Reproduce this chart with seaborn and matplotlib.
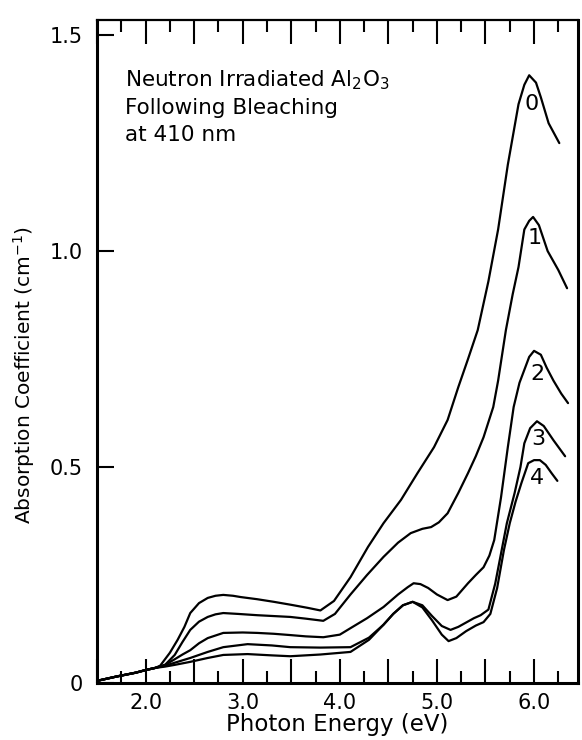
import matplotlib
matplotlib.use("Agg")
import matplotlib.pyplot as plt
from matplotlib.ticker import FixedLocator
import numpy as np
import pandas as pd
import seaborn as sns

sns.set_style("white")
plt.rcParams['font.family'] = ['DejaVu Sans']
plt.rcParams['text.color'] = 'black'
plt.rcParams['axes.labelcolor'] = 'black'
plt.rcParams['xtick.color'] = 'black'
plt.rcParams['ytick.color'] = 'black'

# curve 0 .. 4 : absorption after successive bleaching steps
energy_0 = [1.5, 1.7, 1.9, 2.0, 2.1, 2.15, 2.25, 2.33, 2.4, 2.46, 2.55, 2.64, 2.72, 2.8, 2.9, 2.98,
            3.15, 3.32, 3.5, 3.67, 3.8, 3.94, 4.11, 4.29, 4.45, 4.63, 4.8, 4.97, 5.11, 5.22, 5.32,
            5.42, 5.53, 5.63, 5.73, 5.84, 5.9, 5.95, 6.02, 6.07, 6.15, 6.26]
absorb_0 = [0.005, 0.015, 0.024, 0.03, 0.035, 0.04, 0.07, 0.10, 0.13, 0.162, 0.185, 0.197, 0.202,
            0.204, 0.202, 0.199, 0.194, 0.188, 0.181, 0.174, 0.168, 0.19, 0.245, 0.315, 0.37, 0.424,
            0.486, 0.546, 0.609, 0.685, 0.75, 0.817, 0.93, 1.05, 1.20, 1.34, 1.385, 1.407, 1.39,
            1.356, 1.296, 1.25]

energy_1 = [1.5, 1.7, 1.9, 2.0, 2.1, 2.2, 2.3, 2.38, 2.46, 2.55, 2.64, 2.72, 2.8, 2.95, 3.15, 3.32,
            3.49, 3.65, 3.83, 3.95, 4.11, 4.28, 4.45, 4.6, 4.73, 4.85, 4.94, 5.02, 5.11, 5.22, 5.32,
            5.4, 5.48, 5.58, 5.63, 5.71, 5.78, 5.84, 5.9, 5.95, 5.99, 6.05, 6.14, 6.25, 6.34]
absorb_1 = [0.005, 0.015, 0.024, 0.03, 0.035, 0.042, 0.065, 0.095, 0.123, 0.142, 0.153, 0.159,
            0.162, 0.160, 0.157, 0.155, 0.153, 0.149, 0.144, 0.16, 0.205, 0.25, 0.292, 0.325, 0.347,
            0.357, 0.361, 0.372, 0.393, 0.44, 0.486, 0.525, 0.569, 0.639, 0.70, 0.817, 0.9, 0.963,
            1.05, 1.07, 1.079, 1.06, 1.0, 0.956, 0.914]

energy_2 = [1.5, 1.7, 1.9, 2.0, 2.1, 2.2, 2.3, 2.38, 2.46, 2.55, 2.64, 2.8, 3.0, 3.15, 3.32, 3.49,
            3.65, 3.83, 4.0, 4.11, 4.28, 4.45, 4.6, 4.7, 4.76, 4.83, 4.91, 5.0, 5.11, 5.2, 5.32,
            5.4, 5.48, 5.54, 5.59, 5.66, 5.73, 5.79, 5.85, 5.9, 5.95, 6.0, 6.07, 6.13, 6.2, 6.28, 6.35]
absorb_2 = [0.005, 0.015, 0.024, 0.03, 0.035, 0.042, 0.055, 0.066, 0.076, 0.092, 0.104, 0.116,
            0.117, 0.116, 0.114, 0.111, 0.108, 0.106, 0.112, 0.127, 0.15, 0.176, 0.205, 0.222,
            0.231, 0.229, 0.22, 0.205, 0.192, 0.2, 0.231, 0.25, 0.268, 0.295, 0.331, 0.43, 0.546,
            0.639, 0.695, 0.725, 0.755, 0.769, 0.76, 0.73, 0.70, 0.67, 0.648]

energy_3 = [1.5, 1.7, 1.9, 2.0, 2.1, 2.2, 2.3, 2.46, 2.64, 2.8, 3.05, 3.3, 3.49, 3.8, 4.11, 4.3,
            4.45, 4.55, 4.65, 4.75, 4.85, 4.95, 5.05, 5.14, 5.22, 5.3, 5.38, 5.45, 5.53, 5.6, 5.66,
            5.72, 5.8, 5.86, 5.9, 5.96, 6.03, 6.1, 6.2, 6.32]
absorb_3 = [0.005, 0.015, 0.024, 0.03, 0.035, 0.04, 0.047, 0.058, 0.072, 0.083, 0.09, 0.087,
            0.083, 0.082, 0.083, 0.105, 0.135, 0.16, 0.18, 0.188, 0.18, 0.155, 0.132, 0.123, 0.13,
            0.14, 0.15, 0.157, 0.17, 0.23, 0.3, 0.37, 0.44, 0.5, 0.555, 0.59, 0.606, 0.595, 0.562,
            0.525]

energy_4 = [1.5, 1.7, 1.9, 2.0, 2.1, 2.2, 2.3, 2.46, 2.64, 2.8, 3.05, 3.3, 3.49, 3.8, 4.11, 4.3,
            4.45, 4.55, 4.65, 4.75, 4.85, 4.95, 5.05, 5.12, 5.2, 5.3, 5.4, 5.48, 5.55, 5.62, 5.69,
            5.75, 5.81, 5.87, 5.94, 6.0, 6.06, 6.12, 6.18, 6.24]
absorb_4 = [0.005, 0.015, 0.024, 0.03, 0.035, 0.038, 0.042, 0.049, 0.058, 0.065, 0.067, 0.064,
            0.062, 0.066, 0.072, 0.1, 0.135, 0.16, 0.18, 0.188, 0.175, 0.145, 0.112, 0.097, 0.104,
            0.12, 0.133, 0.141, 0.16, 0.22, 0.308, 0.37, 0.42, 0.463, 0.509, 0.516, 0.516, 0.505,
            0.486, 0.468]

curve_names = ["0", "1", "2", "3", "4"]
x_major = [1.5, 2.0, 2.5, 3.0, 3.5, 4.0, 4.5, 5.0, 5.5, 6.0]
x_labels = ["", "2.0", "", "3.0", "", "4.0", "", "5.0", "", "6.0"]
x_minor = [1.75, 2.25, 2.75, 3.25, 3.75, 4.25, 4.75, 5.25, 5.75, 6.25]
y_ticks = [0, 0.5, 1.0, 1.5]
y_labels = ["0", "0.5", "1.0", "1.5"]

# where the curve numbers sit
label_spots = [(5.97, 1.34), (6.01, 1.03), (6.04, 0.715), (6.04, 0.565), (6.03, 0.475)]

frames = []
for name, e, a in zip(curve_names, [energy_0, energy_1, energy_2, energy_3, energy_4],
                      [absorb_0, absorb_1, absorb_2, absorb_3, absorb_4]):
    frames.append(pd.DataFrame({"energy": e, "absorption": a, "curve": name}))
df = pd.concat(frames, ignore_index=True)

fig = plt.figure(figsize=(5.82, 7.40), dpi=100)
ax = fig.add_axes([0.1667, 0.077, 0.826, 0.896])

sns.lineplot(data=df, x="energy", y="absorption", units="curve", estimator=None,
             color="black", linewidth=1.6, ax=ax, legend=False)

for name, (xx, yy) in zip(curve_names, label_spots):
    ax.text(xx, yy, name, ha="center", va="center", fontsize=16)

ax.text(0.058, 0.927, "Neutron Irradiated Al$_2$O$_3$\nFollowing Bleaching\nat 410 nm",
        transform=ax.transAxes, ha="left", va="top", fontsize=15.5, linespacing=1.4)

ax.set_xlim(1.5, 6.45)
ax.set_ylim(0, 1.535)

ax.set_xticks(x_major)
ax.set_xticklabels(x_labels)
ax.xaxis.set_minor_locator(FixedLocator(x_minor))
ax.set_yticks(y_ticks)
ax.set_yticklabels(y_labels)

ax.tick_params(axis="x", which="major", direction="in", length=17, width=1.5,
               top=True, bottom=True, labelsize=15, pad=7)
ax.tick_params(axis="x", which="minor", direction="in", length=8.5, width=1.5,
               top=True, bottom=True)
ax.tick_params(axis="y", which="major", direction="in", length=12, width=1.5,
               left=True, right=False, labelsize=15, pad=10)

for side in ["left", "bottom", "right"]:
    ax.spines[side].set_linewidth(2.2)
ax.spines["top"].set_linewidth(1.6)
for s in ax.spines.values():
    s.set_color("black")

ax.set_xlabel("Photon Energy (eV)", fontsize=16.5, labelpad=0)
ax.set_ylabel("Absorption Coefficient (cm$^{-1}$)", fontsize=14.5)
ax.yaxis.set_label_coords(-0.125, 0.465)

fig.savefig("out.png", dpi=100)
